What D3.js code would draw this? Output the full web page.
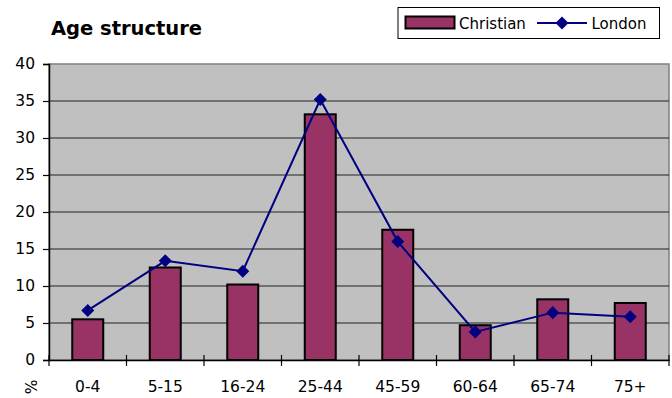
<!DOCTYPE html>
<html><head><meta charset="utf-8">
<script src="https://cdn.jsdelivr.net/npm/d3@7"></script>
<style>body{margin:0;background:#fff}svg{display:block}</style>
</head><body><svg id="c" width="672" height="398"></svg>
<script>
const categories = ["0-4","5-15","16-24","25-44","45-59","60-64","65-74","75+"];
const christian = [5.5,12.5,10.2,33.2,17.6,4.7,8.2,7.7];
const london = [6.7,13.4,12.0,35.2,16.0,3.8,6.4,5.85];
const yTicks = [0,5,10,15,20,25,30,35,40];

const svg = d3.select("#c");
const font = "DejaVu Sans";
const m = {l:49, r:669, t:64, b:360};
const x = d3.scaleBand().domain(categories).range([m.l, m.r]);
const y = d3.scaleLinear().domain([0,40]).range([m.b, m.t]);

// plot background
svg.append("rect").attr("x",m.l).attr("y",m.t).attr("width",m.r-m.l).attr("height",m.b-m.t)
  .attr("fill","#c0c0c0").attr("stroke","#808080").attr("stroke-width",1.5);

// gridlines
svg.append("g").selectAll("line").data(yTicks.filter(d=>d>0 && d<40)).join("line")
  .attr("x1",m.l).attr("x2",m.r).attr("y1",d=>y(d)).attr("y2",d=>y(d))
  .attr("stroke","#222").attr("stroke-width",1.2);

// y axis
const ya = svg.append("g").attr("transform",`translate(${m.l},0)`)
  .call(d3.axisLeft(y).tickValues(yTicks).tickSize(6).tickPadding(8));
ya.select(".domain").attr("stroke","#000").attr("stroke-width",1.5);
ya.selectAll(".tick line").attr("stroke","#000").attr("stroke-width",1.2);
ya.selectAll("text").attr("font-family",font).attr("font-size",15.5).attr("fill","#000");

// bars
svg.append("g").selectAll("rect").data(christian).join("rect")
  .attr("x",(d,i)=>x(categories[i])+x.bandwidth()/2-15.5)
  .attr("width",31)
  .attr("y",d=>y(d)).attr("height",d=>y(0)-y(d))
  .attr("fill","#993366").attr("stroke","#000").attr("stroke-width",2);

// x axis
const xa = svg.append("g").attr("transform",`translate(0,${m.b})`)
  .call(d3.axisBottom(x).tickSize(0).tickPadding(21));
xa.select(".domain").attr("stroke","#000").attr("stroke-width",1.5);
xa.selectAll("text").attr("font-family",font).attr("font-size",15.5).attr("fill","#000");
const bounds = categories.map(c=>x(c)).concat([m.r]);
svg.append("g").selectAll("line").data(bounds).join("line")
  .attr("x1",d=>d).attr("x2",d=>d).attr("y1",m.b-5).attr("y2",m.b+6)
  .attr("stroke","#000").attr("stroke-width",1.2);

// line
const line = d3.line().x((d,i)=>x(categories[i])+x.bandwidth()/2).y(d=>y(d));
svg.append("path").datum(london).attr("d",line).attr("fill","none")
  .attr("stroke","#000080").attr("stroke-width",2);
const diamond = d3.symbol().type(d3.symbolSquare).size(85);
svg.append("g").selectAll("path").data(london).join("path")
  .attr("d",diamond)
  .attr("transform",(d,i)=>`translate(${x(categories[i])+x.bandwidth()/2},${y(d)}) rotate(45)`)
  .attr("fill","#000080");

// % label
svg.append("text").text("%").attr("font-family",font).attr("font-size",15.5)
  .attr("transform","translate(37,387) rotate(-90)").attr("text-anchor","middle").attr("fill","#000");

// title
svg.append("text").text("Age structure").attr("x",51).attr("y",35)
  .attr("font-family",font).attr("font-weight","bold").attr("font-size",19.5).attr("fill","#000");

// legend
const lg = svg.append("g");
lg.append("rect").attr("x",398).attr("y",7.5).attr("width",261.5).attr("height",31)
  .attr("fill","#fff").attr("stroke","#000").attr("stroke-width",1);
lg.append("rect").attr("x",405.5).attr("y",16.5).attr("width",49).attr("height",12)
  .attr("fill","#993366").attr("stroke","#000").attr("stroke-width",2);
lg.append("text").text("Christian").attr("x",459).attr("y",28.5)
  .attr("font-family",font).attr("font-size",15).attr("fill","#000");
lg.append("line").attr("x1",537).attr("x2",587).attr("y1",23).attr("y2",23)
  .attr("stroke","#000080").attr("stroke-width",2);
lg.append("path").attr("d",diamond).attr("transform","translate(562,23) rotate(45)").attr("fill","#000080");
lg.append("text").text("London").attr("x",591.5).attr("y",28.5)
  .attr("font-family",font).attr("font-size",15).attr("fill","#000");
</script></body></html>
